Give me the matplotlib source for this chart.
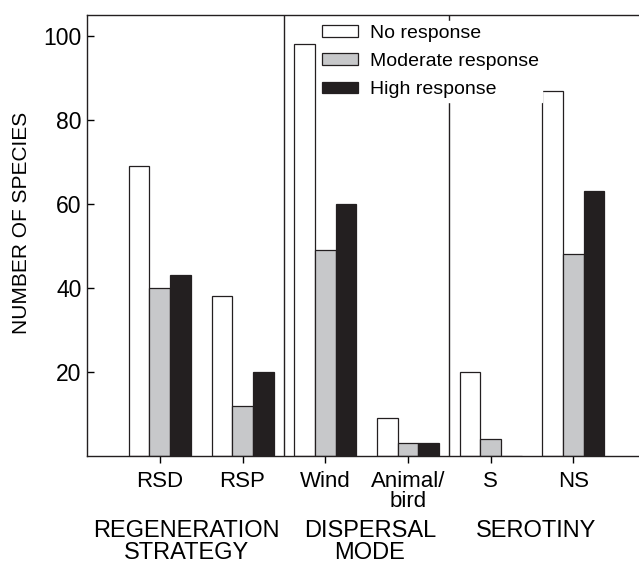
import matplotlib
matplotlib.use("Agg")
import matplotlib.pyplot as plt
import matplotlib.transforms as mtransforms
import numpy as np

plt.rcParams["font.family"] = ["Liberation Sans", "DejaVu Sans"]

categories = ["RSD", "RSP", "Wind", "Animal/\nbird", "S", "NS"]
groups = ["REGENERATION\nSTRATEGY", "DISPERSAL\nMODE", "SEROTINY"]
group_centers = [0.32, 2.54, 4.55]
dividers = [1.5, 3.5]

series_names = ["No response", "Moderate response", "High response"]
no_resp = [69, 38, 98, 9, 20, 87]
moderate = [40, 12, 49, 3, 4, 48]
high = [43, 20, 60, 3, 0, 63]

colors = ["white", "#c7c8ca", "#231f20"]
edge = "#231f20"

fig = plt.figure(figsize=(6.39, 5.64), dpi=100)
ax = fig.add_axes([87 / 639, 1 - 456 / 564, 1 - 87 / 639 + 0.01, (456 - 15) / 564])

x = np.arange(len(categories))
w = 0.25
for i, (vals, c, name) in enumerate(zip([no_resp, moderate, high], colors, series_names)):
    ax.bar(x + (i - 1) * w, vals, width=w, color=c, edgecolor=edge,
           linewidth=0.9, label=name, zorder=2)

for d in dividers:
    ax.axvline(d, color=edge, linewidth=1.0, zorder=1)

ax.set_xlim(-0.88, 5.87)
ax.set_ylim(0, 105)
ax.set_yticks([20, 40, 60, 80, 100])
ax.set_xticks(x)
ax.set_xticklabels(categories, fontsize=16, linespacing=0.95)
ax.tick_params(axis="y", direction="in", length=5, width=1, labelsize=16.5, pad=4)
ax.tick_params(axis="x", direction="out", length=5, width=1, pad=6)
ax.spines["right"].set_visible(False)
for s in ["left", "top", "bottom"]:
    ax.spines[s].set_linewidth(1.0)
    ax.spines[s].set_color(edge)
ax.set_ylabel("NUMBER OF SPECIES", fontsize=15)
ax.yaxis.set_label_coords(-55 / 552, 0.528)

trans = mtransforms.blended_transform_factory(ax.transData, fig.transFigure)
for gx, g in zip(group_centers, groups):
    fig.text(gx, 1 - 520 / 564, g, transform=trans, ha="center", va="top",
             fontsize=17, linespacing=0.98, multialignment="center")

leg = ax.legend(loc="upper left", bbox_to_anchor=(318 / 639, 1 - 21 / 564),
                bbox_transform=fig.transFigure, fontsize=14, frameon=True,
                facecolor="white", edgecolor="white", framealpha=1,
                borderpad=0.2, borderaxespad=0, handlelength=1.85,
                handleheight=0.55, handletextpad=0.6, labelspacing=0.58,
                fancybox=False)
leg.set_zorder(5)

fig.savefig("out.png", dpi=100, facecolor="white")
